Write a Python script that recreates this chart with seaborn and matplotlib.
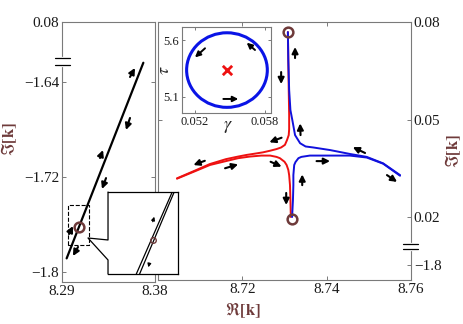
import matplotlib
matplotlib.use('Agg')
import matplotlib.pyplot as plt
from matplotlib.patches import Ellipse, Rectangle
import seaborn as sns

# ---- data ----
# left panel: the nearly straight trajectory (Re k, Im k)
left_re = [8.2945, 8.3687]
left_im = [-1.7885, -1.6238]
left_point_re = [8.3065]
left_point_im = [-1.7620]
# arrows on left panel: tail -> head
left_arrow_tail_re = [8.3558, 8.3558, 8.3268, 8.3326, 8.2968, 8.3055]
left_arrow_tail_im = [-1.6358, -1.6703, -1.7040, -1.7209, -1.7680, -1.7789]
left_arrow_head_re = [8.3606, 8.3519, 8.3297, 8.3287, 8.3006, 8.3006]
left_arrow_head_im = [-1.6282, -1.6804, -1.6973, -1.7301, -1.7613, -1.7865]
# zoomed window marked on left panel
zoom_re = [8.2958, 8.3161]
zoom_im = [-1.7773, -1.7436]

# right panel: four branches near the exceptional point
red_up_re = [8.7308, 8.7309, 8.7310, 8.7311, 8.7311, 8.7310, 8.7306, 8.7301, 8.7292, 8.7281,
             8.7266, 8.7249, 8.7230, 8.7210, 8.7190, 8.7161, 8.7123, 8.7088, 8.7045]
red_up_im = [0.0769, 0.0683, 0.0591, 0.0514, 0.0470, 0.0452, 0.0437, 0.0422, 0.0414, 0.0409,
             0.0404, 0.0399, 0.0395, 0.0391, 0.0386, 0.0378, 0.0363, 0.0343, 0.0319]
red_lo_re = [8.7045, 8.7088, 8.7123, 8.7161, 8.7190, 8.7218, 8.7245, 8.7266, 8.7281, 8.7289,
             8.7300, 8.7305, 8.7309, 8.7311, 8.7313, 8.7314, 8.7315]
red_lo_im = [0.0318, 0.0341, 0.0360, 0.0372, 0.0381, 0.0386, 0.0389, 0.0389, 0.0385, 0.0381,
             0.0370, 0.0360, 0.0345, 0.0329, 0.0298, 0.0252, 0.0200]
blue_up_re = [8.7308, 8.7309, 8.7311, 8.7314, 8.7319, 8.7325, 8.7337, 8.7350, 8.7368, 8.7408,
              8.7455, 8.7495, 8.7534, 8.7574]
blue_up_im = [0.0769, 0.0683, 0.0591, 0.0529, 0.0495, 0.0452, 0.0427, 0.0417, 0.0414, 0.0406,
              0.0394, 0.0385, 0.0365, 0.0329]
blue_lo_re = [8.7574, 8.7534, 8.7495, 8.7455, 8.7408, 8.7360, 8.7340, 8.7333, 8.7326, 8.7323,
              8.7321, 8.7321, 8.7320, 8.7318]
blue_lo_im = [0.0327, 0.0364, 0.0383, 0.0389, 0.0389, 0.0389, 0.0385, 0.0381, 0.0369, 0.0360,
              0.0329, 0.0298, 0.0252, 0.0200]
end_points_re = [8.7308, 8.7317]
end_points_im = [0.0769, 0.0194]
# arrows on right panel: tail -> head
right_arrow_tail_re = [8.7325, 8.7292, 8.7338, 8.7293, 8.7267, 8.7376, 8.7342, 8.7304,
                       8.7111, 8.7159, 8.7491, 8.7543]
right_arrow_tail_im = [0.0689, 0.0646, 0.0452, 0.0444, 0.0370, 0.0372, 0.0298, 0.0274,
                       0.0373, 0.0350, 0.0397, 0.0329]
right_arrow_head_re = [8.7325, 8.7292, 8.7337, 8.7264, 8.7293, 8.7408, 8.7342, 8.7304,
                       8.7084, 8.7190, 8.7462, 8.7567]
right_arrow_head_im = [0.0723, 0.0609, 0.0488, 0.0430, 0.0355, 0.0372, 0.0331, 0.0237,
                       0.0360, 0.0362, 0.0415, 0.0308]

# inset: loop in parameter space (gamma, tau)
loop_center = [0.05474, 5.335]
loop_width = 0.00691
loop_height = 0.658
loop_arrow_tail_g = [0.05714, 0.05286, 0.05443]
loop_arrow_tail_t = [5.512, 5.527, 5.080]
loop_arrow_head_g = [0.05643, 0.05200, 0.05571]
loop_arrow_head_t = [5.576, 5.447, 5.080]

# zoom box contents (relative coordinates of the magnified window)
zline1_x = [0.404, 0.917]
zline2_x = [0.451, 0.945]
zline_y = [0.0, 1.0]
zpoint = [0.639, 0.415]
zarrow_tail = [[0.639, 0.638], [0.590, 0.130]]
zarrow_head = [[0.661, 0.699], [0.576, 0.082]]

brown = '#6e3a3a'
spine_c = '#7a7a7a'

sns.set_theme(style='white')
plt.rcParams['font.family'] = ['Liberation Serif', 'DejaVu Serif']
plt.rcParams['mathtext.fontset'] = 'stix'
plt.rcParams['axes.unicode_minus'] = True

fig = plt.figure(figsize=(4.63, 3.24), dpi=100)
axL = fig.add_axes([0.1339, 0.1296, 0.2009, 0.8025])
axR = fig.add_axes([0.3413, 0.1358, 0.5464, 0.7963])


def arrow(ax, tail, head, lw=1.5, ms=9):
    ax.annotate('', xy=head, xytext=tail,
                arrowprops=dict(arrowstyle='-|>', color='black', lw=lw,
                                mutation_scale=ms, shrinkA=0, shrinkB=0))


def style(ax):
    for s in ax.spines.values():
        s.set_color(spine_c)
        s.set_linewidth(0.8)
    ax.tick_params(direction='in', length=3, width=0.7, color=spine_c,
                   labelsize=11, labelcolor='#1a1a1a', pad=2,
                   top=True, bottom=True, left=True, right=True)


# ---- left panel ----
sns.lineplot(x=left_re, y=left_im, color='black', lw=1.6, ax=axL, sort=False, estimator=None)
axL.plot(left_point_re, left_point_im, 'o', ms=7, mfc='none', mec=brown, mew=1.8)
for i in range(len(left_arrow_tail_re)):
    arrow(axL, (left_arrow_tail_re[i], left_arrow_tail_im[i]),
          (left_arrow_head_re[i], left_arrow_head_im[i]))
axL.add_patch(Rectangle((zoom_re[0], zoom_im[0]), zoom_re[1] - zoom_re[0], zoom_im[1] - zoom_im[0],
                        fill=False, ls='--', lw=0.8, ec='black'))
axL.set_xlim(8.29, 8.38)
axL.set_ylim(-1.8084, -1.5895)
axL.set_xticks([8.29, 8.38])
axL.set_xticklabels(['8.29', '8.38'])
axL.set_yticks([-1.8, -1.72, -1.64, -1.5895])
axL.set_yticklabels(['\u22121.8', '\u22121.72', '\u22121.64', '0.08'])
style(axL)
axL.set_ylabel(r'$\Im\mathbf{[k]}$', color=brown, fontsize=12)
axL.yaxis.set_label_coords(-0.46, 0.55)
# axis break on left spine
axL.plot([0, 0], [0.8365, 0.8615], color='white', lw=2.5, transform=axL.transAxes,
         clip_on=False, zorder=5)
for yb in [0.8365, 0.8615]:
    axL.plot([-0.075, 0.086], [yb, yb], color='black', lw=0.9, transform=axL.transAxes,
             clip_on=False, zorder=6)

# ---- right panel ----
sns.lineplot(x=red_up_re, y=red_up_im, color='#ee1111', lw=1.4, ax=axR, sort=False, estimator=None)
sns.lineplot(x=red_lo_re, y=red_lo_im, color='#ee1111', lw=1.4, ax=axR, sort=False, estimator=None)
sns.lineplot(x=blue_up_re, y=blue_up_im, color='#1111dd', lw=1.4, ax=axR, sort=False, estimator=None)
sns.lineplot(x=blue_lo_re, y=blue_lo_im, color='#1111dd', lw=1.4, ax=axR, sort=False, estimator=None)
axR.plot(end_points_re, end_points_im, 'o', ls='none', ms=7, mfc='none', mec=brown, mew=1.8, zorder=5)
for i in range(len(right_arrow_tail_re)):
    arrow(axR, (right_arrow_tail_re[i], right_arrow_tail_im[i]),
          (right_arrow_head_re[i], right_arrow_head_im[i]))
axR.set_xlim(8.70, 8.76)
axR.set_ylim(0.00062, 0.08)
axR.set_xticks([8.72, 8.74, 8.76])
axR.set_xticklabels(['8.72', '8.74', '8.76'])
axR.set_yticks([0.00523, 0.02, 0.05, 0.08])
axR.set_yticklabels(['\u22121.8', '0.02', '0.05', '0.08'])
axR.yaxis.tick_right()
style(axR)
axR.tick_params(labelleft=False, labelright=True)
axR.yaxis.set_label_position('right')
axR.set_ylabel(r'$\Im\mathbf{[k]}$', color=brown, fontsize=12)
axR.yaxis.set_label_coords(1.13, 0.5)
axR.plot([1, 1], [0.119, 0.138], color='white', lw=2.5, transform=axR.transAxes,
         clip_on=False, zorder=5)
for yb in [0.119, 0.138]:
    axR.plot([0.968, 1.028], [yb, yb], color='black', lw=0.9, transform=axR.transAxes,
             clip_on=False, zorder=6)

fig.text(0.525, 0.043, r'$\Re\mathbf{[k]}$', color=brown, fontsize=12, ha='center', va='center')

# ---- parameter-space inset ----
axI = fig.add_axes([0.3931, 0.6512, 0.1922, 0.2654])
axI.add_patch(Ellipse(loop_center, loop_width, loop_height, fill=False, ec='#0a14e6', lw=2.2))
sns.scatterplot(x=[loop_center[0]], y=[loop_center[1]], marker='x', s=45, color='#ee1111',
                linewidth=2, ax=axI)
for i in range(len(loop_arrow_tail_g)):
    arrow(axI, (loop_arrow_tail_g[i], loop_arrow_tail_t[i]),
          (loop_arrow_head_g[i], loop_arrow_head_t[i]), lw=1.4, ms=8)
axI.set_xlim(0.05089, 0.05851)
axI.set_ylim(4.956, 5.7147)
axI.set_xticks([0.052, 0.058])
axI.set_xticklabels(['0.052', '0.058'])
axI.set_yticks([5.1, 5.6])
axI.set_yticklabels(['5.1', '5.6'])
style(axI)
axI.tick_params(labelsize=9, length=2)
axI.set_xlabel(r'$\gamma$', fontsize=13)
axI.xaxis.set_label_coords(0.517, -0.06)
axI.set_ylabel(r'$\tau$', fontsize=13)
axI.yaxis.set_label_coords(-0.10, 0.5)

# ---- magnified window of the left panel ----
axZ = fig.add_axes([0.2333, 0.1543, 0.1512, 0.2531])
axZ.set_facecolor('white')
sns.lineplot(x=zline1_x, y=zline_y, color='black', lw=0.9, ax=axZ, sort=False, estimator=None)
sns.lineplot(x=zline2_x, y=zline_y, color='black', lw=0.9, ax=axZ, sort=False, estimator=None)
axZ.plot([zpoint[0]], [zpoint[1]], 'o', ms=4, mfc='none', mec=brown, mew=1.0)
for t, h in zip(zarrow_tail, zarrow_head):
    arrow(axZ, t, h, lw=0.9, ms=5)
axZ.set_xlim(0, 1)
axZ.set_ylim(0, 1)
axZ.set_xticks([])
axZ.set_yticks([])
for s in axZ.spines.values():
    s.set_color('black')
    s.set_linewidth(0.9)
axZ.spines['left'].set_visible(False)
axZ.plot([0, 0, -0.286, 0, 0], [1, 0.415, 0.439, 0.171, 0], color='black', lw=0.9,
         transform=axZ.transAxes, clip_on=False)

fig.savefig('out.png', dpi=100)
